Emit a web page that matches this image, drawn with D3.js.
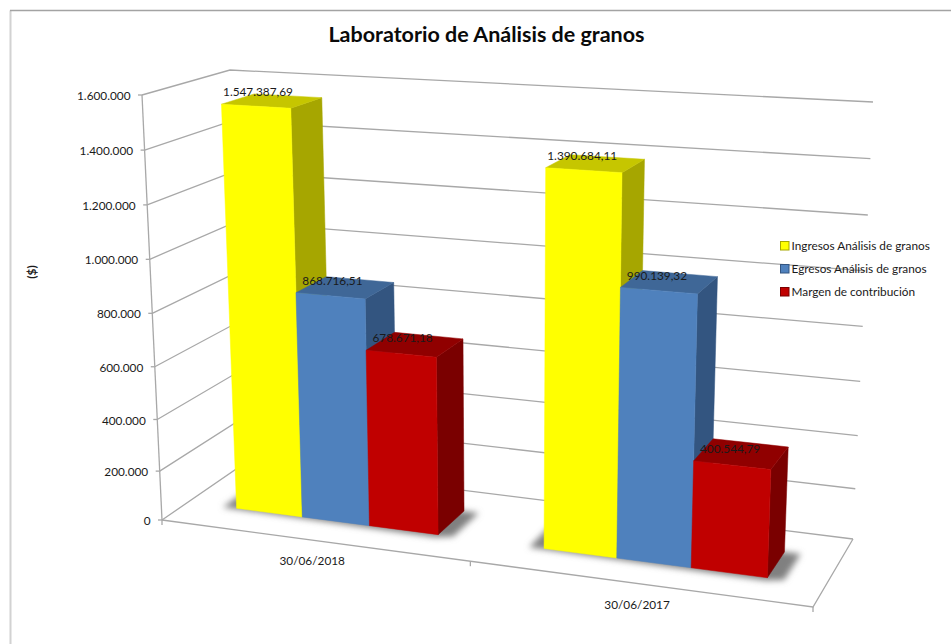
<!DOCTYPE html>
<html>
<head>
<meta charset="utf-8">
<script src="https://cdn.jsdelivr.net/npm/d3@7/dist/d3.min.js"></script>
<style>
html,body{margin:0;padding:0;background:#fff;}
svg{display:block;}
text{font-family:Lato,"Open Sans",sans-serif;fill:#1a1a1a;}
</style>
</head>
<body>
<svg id="chart" width="951" height="644"></svg>
<script>
const titleText = "Laboratorio de Análisis de granos";
const axisTitle = "($)";
const categories = ["30/06/2018", "30/06/2017"];
const seriesNames = ["Ingresos Análisis de granos", "Egresos Análisis de granos", "Margen de contribución"];
const ingresos = [1547387.69, 1390684.11];
const egresos = [868716.51, 990139.32];
const margen = [678671.18, 400544.79];
const tickValues = [0, 200000, 400000, 600000, 800000, 1000000, 1200000, 1400000, 1600000];
const seriesValues = [ingresos, egresos, margen];
const frontColors = ["#ffff00", "#4f81bd", "#c00000"];
const topColors = ["#c6c600", "#3f6797", "#900000"];
const sideColors = ["#a6a600", "#335580", "#7a0000"];

const locale = d3.formatLocale({decimal: ",", thousands: ".", grouping: [3], currency: ["$", ""]});
const fmtTick = locale.format(",d");
const fmtLabel = locale.format(",.2f");

const svg = d3.select("#chart");
const defs = svg.append("defs");
defs.append("filter").attr("id", "soft")
  .attr("x", "-20%").attr("y", "-40%").attr("width", "140%").attr("height", "180%")
  .append("feGaussianBlur").attr("stdDeviation", 3);

// Scales over the chart box (u: across, v: up, w: into the picture)
const uCat = d3.scaleBand().domain(categories).range([0, 1]);
const uSeries = d3.scaleBand().domain(seriesNames).range([0, uCat.bandwidth()]).paddingInner(0).paddingOuter(0.75);
const vScale = d3.scalePow().exponent(1.04).domain([0, 1600000]).range([0, 1]);
const barDepth = [0.3, 0.685];

// Perspective box: corners of the plot cube on screen
const box = {
  b: {a: [162, 520], b: [813, 607], c: [245, 463], d: [853, 539]},
  t: {a: [142, 95], b: [830, 135], c: [230, 70], d: [873, 102]}
};
const depth = (u, w) => 1 - 0.1 * u + 0.08 * w;
function project(u, v, w) {
  let x = 0, y = 0, h = 0;
  [["a", 0, 0], ["b", 1, 0], ["c", 0, 1], ["d", 1, 1]].forEach(([k, cu, cw]) => {
    const wgt = (cu ? u : 1 - u) * (cw ? w : 1 - w) * depth(cu, cw);
    const px = box.b[k][0] + (box.t[k][0] - box.b[k][0]) * v;
    const py = box.b[k][1] + (box.t[k][1] - box.b[k][1]) * v;
    x += wgt * px; y += wgt * py; h += wgt;
  });
  return [x / h, y / h];
}
const line = d3.line();
const GRID = "#a8a8a8";

// Frame
svg.append("path").attr("d", "M10.5,644V10.5").attr("stroke", "#d2d2d2").attr("stroke-width", 2).attr("fill", "none");
svg.append("path").attr("d", "M10,10.5H951").attr("stroke", "#a3a3a3").attr("stroke-width", 1.5).attr("fill", "none");

// Walls and floor
const grid = svg.append("g").attr("fill", "none").attr("stroke", GRID).attr("stroke-width", 1.3);
tickValues.forEach(t => {
  const v = vScale(t);
  grid.append("path").attr("d", line([project(0, v, 0), project(0, v, 1), project(1, v, 1)]));
  const p = project(0, v, 0);
  grid.append("path").attr("d", line([[p[0] - 4, p[1]], p]));
});
grid.append("path").attr("d", line([project(0, 1, 0), project(0, 0, 0)]));
grid.append("path").attr("d", line([project(0, 0, 0), project(1, 0, 0), project(1, 0, 1)]));
[0, 0.5, 1].forEach(u => {
  const p = project(u, 0, 0);
  grid.append("path").attr("d", line([p, [p[0], p[1] + 5]]));
});

// Bars
const shadowG = svg.append("g");
const barsG = svg.append("g");
const labelsG = svg.append("g");
categories.forEach((cat, ci) => {
  const c0 = uCat(cat);
  const u1 = c0 + uSeries(seriesNames[0]);
  const u2 = c0 + uSeries(seriesNames[2]) + uSeries.bandwidth();
  shadowG.append("path")
    .attr("d", line([
      project(u1 - 0.022, 0, barDepth[0] - 0.01),
      project(u2, 0, barDepth[0] - 0.04),
      project(u2 + 0.024, 0, barDepth[0]),
      project(u2 + 0.024, 0, barDepth[1]),
      project(u1 - 0.022, 0, barDepth[1])
    ]) + "Z")
    .attr("fill", "#808080").attr("filter", "url(#soft)");
  seriesNames.forEach((s, si) => {
    const value = seriesValues[si][ci];
    const a = c0 + uSeries(s), b = a + uSeries.bandwidth();
    const v = vScale(value);
    const [w0, w1] = barDepth;
    const g = barsG.append("g").attr("stroke-width", 0.5).attr("stroke-linejoin", "round");
    const face = (pts, col) => g.append("path").attr("d", line(pts) + "Z").attr("fill", col).attr("stroke", col);
    face([project(b, 0, w0), project(b, 0, w1), project(b, v, w1), project(b, v, w0)], sideColors[si]);
    face([project(a, v, w0), project(b, v, w0), project(b, v, w1), project(a, v, w1)], topColors[si]);
    face([project(a, 0, w0), project(b, 0, w0), project(b, v, w0), project(a, v, w0)], frontColors[si]);
    const anchor = project(a, v, w0);
    labelsG.append("text")
      .attr("x", anchor[0] + 36.5).attr("y", anchor[1] - 12)
      .attr("dy", "0.35em").attr("text-anchor", "middle")
      .attr("font-size", 11.8).text(fmtLabel(value));
  });
  const lp = project(c0 + uCat.bandwidth() / 2, 0, 0);
  svg.append("text").attr("x", lp[0]).attr("y", lp[1] + 21).attr("dy", "0.35em")
    .attr("text-anchor", "middle").attr("font-size", 11.8).text(cat);
});

// Value axis labels
tickValues.forEach(t => {
  const p = project(0, vScale(t), 0);
  svg.append("text").attr("x", p[0] - 11.5).attr("y", p[1] + 1).attr("dy", "0.35em")
    .attr("text-anchor", "end").attr("font-size", 11.8).text(fmtTick(t));
});

// Axis title
svg.append("text").attr("transform", "translate(32,272) rotate(-90)")
  .attr("dy", "0.35em").attr("text-anchor", "middle")
  .attr("font-size", 11.8).attr("font-weight", 700).text(axisTitle);

// Chart title
svg.append("text").attr("x", 486.5).attr("y", 34).attr("dy", "0.35em")
  .attr("text-anchor", "middle").attr("font-size", 21.5).attr("font-weight", 700)
  .style("fill", "#0a0a0a").text(titleText);

// Legend
const legendY = d3.scalePoint().domain(seriesNames).range([246, 292]);
seriesNames.forEach((s, i) => {
  const y = legendY(s);
  svg.append("rect").attr("x", 780.5).attr("y", y - 4.5).attr("width", 8.5).attr("height", 8.5)
    .attr("fill", frontColors[i]).attr("stroke", sideColors[i]);
  svg.append("text").attr("x", 791.5).attr("y", y).attr("dy", "0.35em")
    .attr("font-size", 11.8).text(s);
});
</script>
</body>
</html>
